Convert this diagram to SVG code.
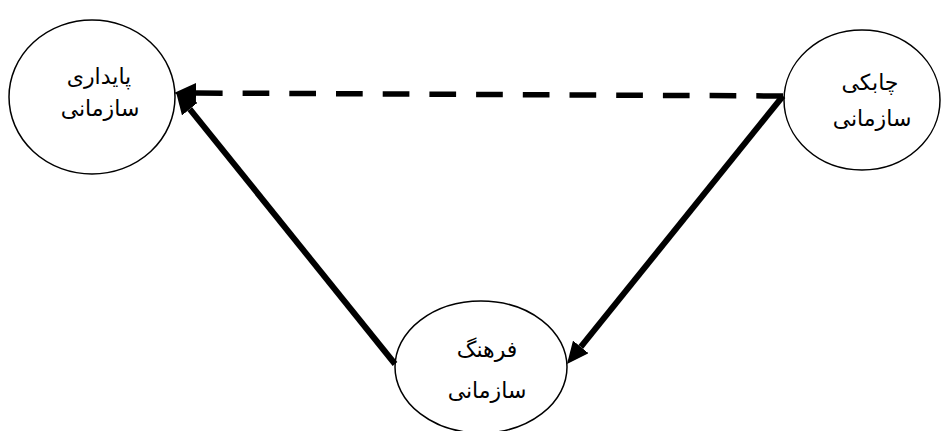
<svg xmlns="http://www.w3.org/2000/svg" width="941" height="431" viewBox="0 0 941 431">
<style>
.node ellipse{fill:#fff;stroke:#000;stroke-width:1.5}
.node text{font-family:"DejaVu Sans","Liberation Serif",serif;font-size:22px;fill:#000;text-anchor:middle;direction:rtl}
.conn line{stroke:#000;fill:none}
</style>
<defs>
<marker id="ah" markerUnits="userSpaceOnUse" markerWidth="22" markerHeight="20" refX="0" refY="10" orient="auto" viewBox="0 0 22 20">
<path d="M0,0 L22,10 L0,20 z" fill="#000"/>
</marker>
</defs>
<rect width="941" height="431" fill="#fff"/>
<g id="node-paydari" class="node">
<ellipse cx="92" cy="97" rx="83" ry="77"/>
<text x="99" y="84">پایداری</text>
<text x="100" y="116">سازمانی</text>
</g>
<g id="node-chabaki" class="node">
<ellipse cx="862" cy="100" rx="78" ry="70"/>
<text x="870" y="90">چابکی</text>
<text x="872" y="126">سازمانی</text>
</g>
<g id="node-farhang" class="node">
<ellipse cx="481" cy="367" rx="86" ry="66"/>
<text x="487" y="357">فرهنگ</text>
<text x="487" y="398">سازمانی</text>
</g>
<g id="connectors" class="conn">
<line x1="783" y1="96" x2="196" y2="93" stroke-width="5.5" stroke-dasharray="26.7 20" marker-end="url(#ah)"/>
<line x1="783" y1="96" x2="580.8" y2="346.9" stroke-width="6" marker-end="url(#ah)"/>
<line x1="395" y1="364" x2="189.8" y2="109.1" stroke-width="6" marker-end="url(#ah)"/>
</g>
</svg>
